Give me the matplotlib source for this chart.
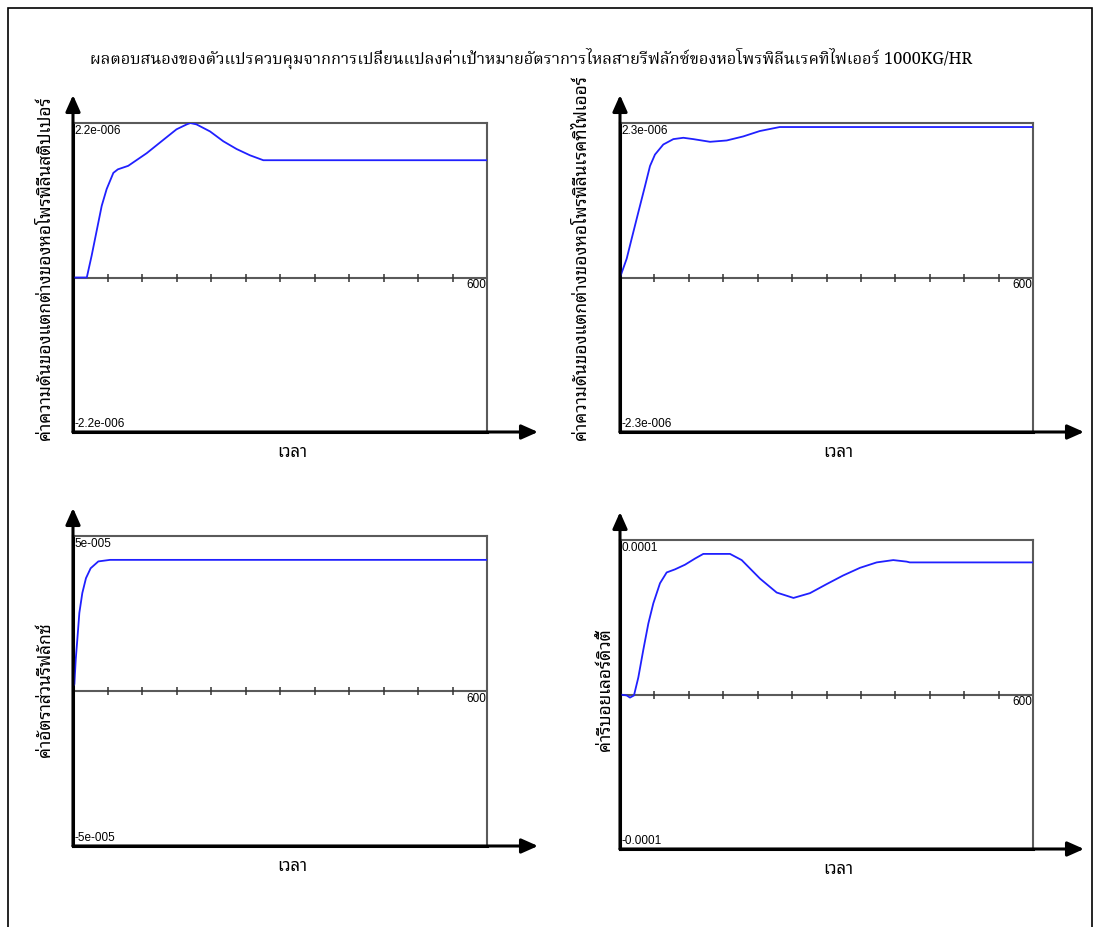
import numpy as np
import matplotlib
matplotlib.use('Agg')
import matplotlib.pyplot as plt
from matplotlib import font_manager
from matplotlib.ft2font import FT2Font
from matplotlib.patches import Rectangle

# Data (time in s, values in plot units)
t_stripper = [0, 20, 27, 41.6, 48.8, 58.5, 65, 80, 106.8, 130.9, 150, 164.8, 170,
              179, 198.6, 217.8, 237, 256.5, 275.8, 600]
dp_stripper = [0, 0, 0.31e-6, 1.02e-6, 1.26e-6, 1.49e-6, 1.54e-6, 1.59e-6, 1.77e-6,
               1.96e-6, 2.11e-6, 2.18e-6, 2.2e-6, 2.18e-6, 2.08e-6, 1.94e-6, 1.83e-6,
               1.74e-6, 1.67e-6, 1.67e-6]

t_rectifier = [0, 9.7, 17, 26.6, 36.3, 43.6, 50.8, 62.9, 77.5, 92, 106.5, 130.8,
               155, 179, 203, 232, 600]
dp_rectifier = [0, 0.28e-6, 0.58e-6, 0.97e-6, 1.36e-6, 1.66e-6, 1.83e-6, 1.98e-6,
                2.06e-6, 2.08e-6, 2.06e-6, 2.02e-6, 2.04e-6, 2.10e-6, 2.18e-6,
                2.24e-6, 2.24e-6]

t_reflux = [0, 2, 4, 6.3, 9.2, 13.5, 18.8, 25.6, 36.7, 53.6, 600]
reflux_ratio = [0.15e-5, 0.22e-5, 1.03e-5, 1.67e-5, 2.52e-5, 3.16e-5, 3.64e-5,
                3.96e-5, 4.18e-5, 4.23e-5, 4.23e-5]

t_reboiler = [0, 9.7, 14.5, 20.3, 26.6, 33.9, 41.2, 48.4, 58.1, 67.8, 79.9, 94.4,
              109, 121, 140.5, 159.8, 176.8, 203.4, 227.6, 252, 276, 300, 324,
              348.7, 372.9, 397, 416.5, 421, 600]
reboiler_duty = [0, -0.006e-4, -0.02e-4, -0.006e-4, 0.11e-4, 0.29e-4, 0.46e-4,
                 0.59e-4, 0.72e-4, 0.79e-4, 0.81e-4, 0.84e-4, 0.88e-4, 0.91e-4,
                 0.91e-4, 0.91e-4, 0.87e-4, 0.75e-4, 0.66e-4, 0.625e-4, 0.656e-4,
                 0.714e-4, 0.77e-4, 0.82e-4, 0.855e-4, 0.87e-4, 0.86e-4, 0.855e-4,
                 0.855e-4]

y_limits = [2.2e-6, 2.3e-6, 5e-5, 1e-4]
y_top_labels = ['2.2e-006', '2.3e-006', '5e-005', '0.0001']
y_bot_labels = ['-2.2e-006', '-2.3e-006', '-5e-005', '-0.0001']
y_titles = ['ค่าความดันของแตกต่างของหอโพรพิลีนสติปเปอร์',
            'ค่าความดันของแตกต่างของหอโพรพิลีนเรคทิไฟเออร์',
            'ค่าอัตราส่วนรีฟลักซ์',
            'ค่ารีบอยเลอร์ดิวตี้']
x_title = 'เวลา'
t_max = 600
title = ('ผลตอบสนองของตัวแปรควบคุมจากการเปลี่ยนแปลงค่าเป้าหมาย'
         'อัตราการไหลสายรีฟลักซ์ของหอโพรพิลีนเรคทิไฟเออร์ 1000KG/HR')


def thai_fonts():
    names = []
    for f in font_manager.fontManager.ttflist:
        try:
            if FT2Font(f.fname).get_char_index(ord('ก')) and f.name not in names:
                names.append(f.name)
        except Exception:
            pass
    return names


found = thai_fonts()
serif_pref = ['Norasi', 'Kinnari', 'Noto Serif Thai', 'Laksaman', 'TH Sarabun New']
sans_pref = ['Noto Sans Thai Looped', 'Noto Sans Thai', 'Loma', 'Garuda']
serif_thai = next((n for n in serif_pref if n in found), found[0] if found else 'DejaVu Sans')
sans_thai = next((n for n in sans_pref if n in found), found[0] if found else 'DejaVu Sans')

W, H = 1099, 927
fig = plt.figure(figsize=(W / 100, H / 100), dpi=100)
fig.patch.set_facecolor('white')


def px_axes(left, top, right, bottom):
    return fig.add_axes([left / W, 1 - bottom / H, (right - left) / W, (bottom - top) / H])


boxes = [(73, 123, 487, 432), (620, 123, 1033, 432),
         (73, 536, 487, 846), (620, 540, 1033, 849)]
series = [(t_stripper, dp_stripper), (t_rectifier, dp_rectifier),
          (t_reflux, reflux_ratio), (t_reboiler, reboiler_duty)]
ylab_pos = [(45, 268), (581, 258), (45, 690), (605, 690)]
num_font = ['Liberation Sans', 'DejaVu Sans']

for i, (box, (tx, vy)) in enumerate(zip(boxes, series)):
    left, top, right, bottom = box
    ax = px_axes(*box)
    lim = y_limits[i]
    ax.set_xlim(0, t_max)
    ax.set_ylim(-lim, lim)
    ax.set_xticks([]); ax.set_yticks([])
    for s in ['top', 'right']:
        ax.spines[s].set_color('#5a5a5a'); ax.spines[s].set_linewidth(1.5)
    for s in ['left', 'bottom']:
        ax.spines[s].set_color('black'); ax.spines[s].set_linewidth(2.2)

    # zero line with ticks every 50
    ax.axhline(0, color='#5a5a5a', lw=1.5, zorder=1)
    ticks = np.arange(50, t_max, 50)
    ax.plot(ticks, np.zeros_like(ticks), ls='none', marker='|', ms=6, mew=1.1,
            color='#333333', zorder=1)

    ax.plot(tx, vy, color='#2020ff', lw=1.3, zorder=3)

    ax.text(0.004, 0.993, y_top_labels[i], transform=ax.transAxes, ha='left', va='top',
            fontsize=8.5, family=num_font)
    ax.text(0.004, 0.006, y_bot_labels[i], transform=ax.transAxes, ha='left', va='bottom',
            fontsize=8.5, family=num_font)
    ax.text(0.999, 0.494, '600', transform=ax.transAxes, ha='right', va='top',
            fontsize=8.5, family=num_font)

    # arrow axes
    h = bottom - top
    w = right - left
    arr = dict(arrowstyle='-|>,head_length=0.9,head_width=0.4', color='black',
               lw=2.2, shrinkA=0, shrinkB=0, mutation_scale=11)
    ax.annotate('', xy=(0, 1 + 28 / h), xytext=(0, 0), xycoords='axes fraction',
                arrowprops=arr, annotation_clip=False)
    ax.annotate('', xy=(1 + 51 / w, 0), xytext=(0, 0), xycoords='axes fraction',
                arrowprops=arr, annotation_clip=False)

    fig.text(ylab_pos[i][0] / W, 1 - ylab_pos[i][1] / H, y_titles[i], rotation=90,
             ha='center', va='center', fontsize=12.5, family=[sans_thai, 'DejaVu Sans'])
    fig.text((left + right) / 2 / W + 12 / W, 1 - (bottom + 21) / H, x_title,
             ha='center', va='center', fontsize=12, family=[sans_thai, 'DejaVu Sans'])

fig.text(531 / W, 1 - 58 / H, title, ha='center', va='center', fontsize=11.8,
         family=[serif_thai, 'Liberation Serif', 'DejaVu Serif'])

fig.patches.append(Rectangle((8 / W, -0.01), (1092 - 8) / W, 1 - 8 / H + 0.01,
                             transform=fig.transFigure, fill=False, lw=1.2,
                             edgecolor='black'))

fig.savefig('out.png', dpi=100, facecolor='white')
